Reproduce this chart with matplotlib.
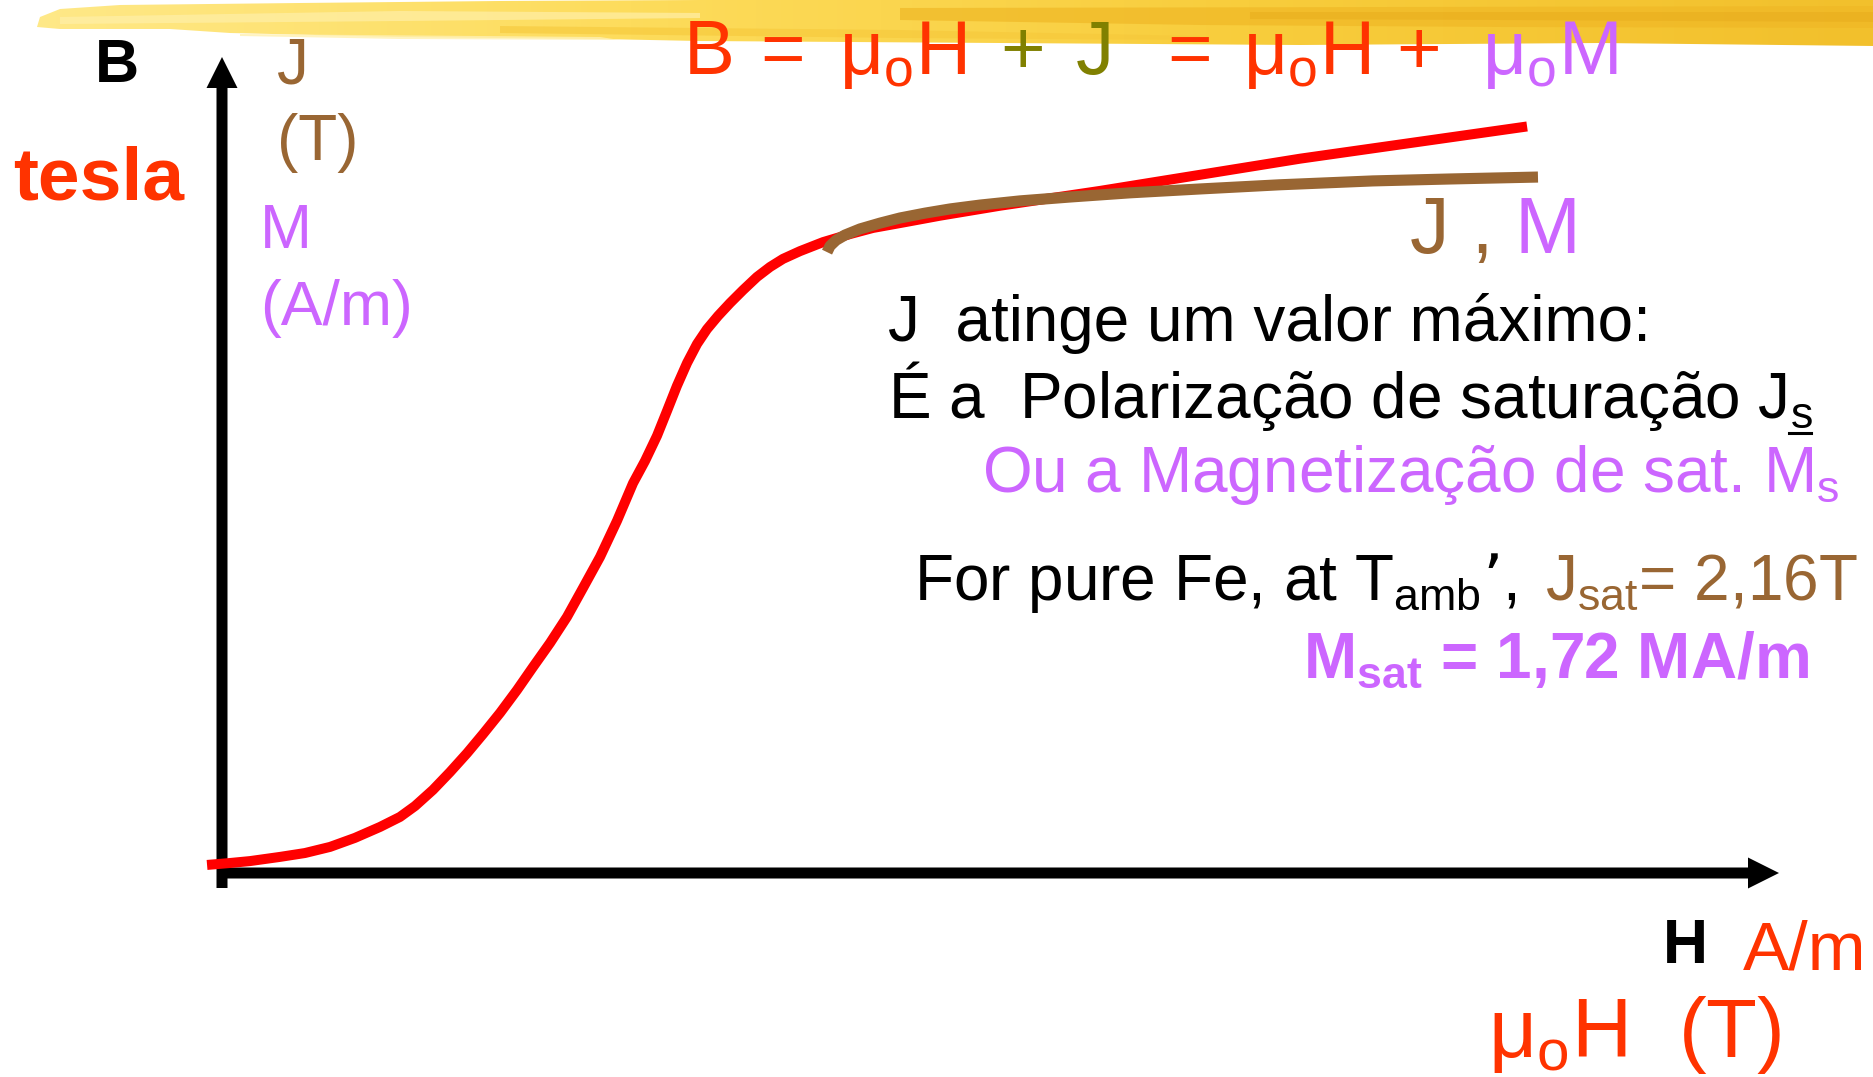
import numpy as np
import matplotlib
matplotlib.use('Agg')
import matplotlib.pyplot as plt
from matplotlib.patches import Polygon
from matplotlib.colors import LinearSegmentedColormap

plt.rcParams['font.family'] = ['Liberation Sans', 'DejaVu Sans']

# B(H) curve and J(H) curve (H arbitrary units, B/J in T)
h_b = [-0.96, 0.51, 1.80, 3.73, 5.33, 6.94, 8.54, 10.15, 11.43, 12.40, 13.55, 14.64,
       15.74, 16.76, 17.86, 18.95, 19.97, 21.07, 22.16, 23.19, 24.28, 25.37, 26.40,
       27.17, 27.94, 28.58, 29.22, 29.87, 30.51, 31.15, 31.86, 32.63, 33.46, 34.36,
       35.20, 36.03, 37.12, 38.60, 40.33, 41.81, 43.87, 46.11, 49.97, 56.39, 69.24, 83.82]
b_vals = [0.025, 0.031, 0.037, 0.050, 0.062, 0.081, 0.109, 0.143, 0.174, 0.208, 0.258,
          0.313, 0.372, 0.431, 0.497, 0.568, 0.639, 0.714, 0.795, 0.885, 0.981, 1.093,
          1.210, 1.279, 1.357, 1.434, 1.512, 1.583, 1.642, 1.688, 1.729, 1.769, 1.809,
          1.850, 1.881, 1.906, 1.930, 1.958, 1.983, 2.002, 2.020, 2.040, 2.071, 2.117,
          2.217, 2.317]
h_j = [38.86, 39.05, 39.44, 40.01, 40.98, 42.26, 43.55, 45.15, 46.76, 48.68, 51.25,
       54.46, 58.31, 62.80, 67.94, 73.92, 78.87, 84.52]
j_vals = [1.927, 1.946, 1.964, 1.980, 1.999, 2.017, 2.033, 2.048, 2.061, 2.073, 2.086,
          2.098, 2.111, 2.123, 2.136, 2.148, 2.154, 2.160]

# colours
RED = '#FF0000'
ORANGE = '#FF3300'
BROWN = '#996633'
PURPLE = '#CC66FF'
OLIVE = '#808000'

W, H = 1874, 1077
ox, oy = 222, 873          # pixel position of the origin
sx, sy = 15.57, 322.2      # pixels per unit

fig = plt.figure(figsize=(W / 100, H / 100), dpi=100)

# yellow brush stroke at the top (pixel coords)
bg = fig.add_axes([0, 0, 1, 1], zorder=0)
bg.set_xlim(0, W)
bg.set_ylim(H, 0)
bg.axis('off')
outline = Polygon([(37, 27), (40, 17), (60, 9), (120, 5), (300, 3), (500, 1), (700, 0),
                   (1874, 0), (1874, 46), (1600, 43), (1300, 45), (1000, 43), (700, 41),
                   (600, 39), (400, 37), (230, 33), (170, 29), (60, 29)],
                  closed=True, facecolor='none', lw=0)
bg.add_patch(outline)
brush = LinearSegmentedColormap.from_list('brush', ['#FFE98A', '#FDDC5C', '#F8CD3C', '#F2C02C'])
grad = np.tile(np.linspace(0, 1, 300), (10, 1))
im = bg.imshow(grad, cmap=brush, extent=[0, W, 50, 0], aspect='auto', zorder=0)
im.set_clip_path(outline)
streaks = [
    ('#F0B826', 0.7, [(900, 8), (1874, 6), (1874, 28), (1500, 27), (1200, 25), (900, 20)]),
    ('#E9AE1E', 0.6, [(1250, 12), (1874, 12), (1874, 22), (1500, 20), (1250, 19)]),
    ('#FFEFA8', 0.7, [(60, 17), (400, 11), (700, 13), (700, 18), (400, 21), (60, 24)]),
    ('#F6C83A', 0.6, [(500, 26), (900, 30), (1200, 36), (1200, 40), (900, 38), (500, 33)]),
    ('#FFF0B0', 0.8, [(240, 34), (600, 37), (620, 40), (400, 39), (240, 36)]),
]
for c, a, pts in streaks:
    bg.add_patch(Polygon(pts, closed=True, color=c, alpha=a, lw=0, zorder=1))
# underline of the subscript s in J_s
bg.plot([1789, 1811], [433, 433], color='k', lw=2.2, zorder=2)

ax = fig.add_axes([0, 0, 1, 1], zorder=1)
ax.patch.set_alpha(0)
ax.set_xlim(-ox / sx, (W - ox) / sx)
ax.set_ylim(-(H - oy) / sy, oy / sy)
ax.axis('off')

# axes arrows
ax.arrow(-5 / sx, 0, 100 + 5 / sx, 0, width=11 / sy, head_width=31 / sy,
         head_length=31 / sx, length_includes_head=True, color='k', lw=0)
ax.arrow(0, -15 / sy, 0, 816 / sy + 15 / sy, width=11 / sx, head_width=31 / sx,
         head_length=31 / sy, length_includes_head=True, color='k', lw=0)

ax.plot(h_b, b_vals, color=RED, lw=7.2, solid_capstyle='butt', solid_joinstyle='round')
ax.plot(h_j, j_vals, color=BROWN, lw=8, solid_capstyle='butt', solid_joinstyle='round')


def put(x, y, s, color, size, bold=False):
    fig.text(x / W, 1 - y / H, s, color=color, fontsize=size, ha='left', va='baseline',
             fontweight='bold' if bold else 'normal', zorder=5)


mu_o = r'μ$_\mathregular{o}$'

# left labels
put(95, 82, 'B', 'k', 44, True)
put(277, 83, 'J', BROWN, 46)
put(277, 160, '(T)', BROWN, 46)
put(13, 200, 'tesla', ORANGE, 54, True)
put(260, 248, 'M', PURPLE, 45)
put(260, 325, '(A/m)', PURPLE, 45)

# equation on top
put(684, 74, 'B', ORANGE, 55)
put(760, 74, '=', ORANGE, 55)
put(839, 74, mu_o + 'H', ORANGE, 55)
put(1000, 74, '+', OLIVE, 55)
put(1076, 74, 'J', OLIVE, 55)
put(1167, 74, '=', ORANGE, 55)
put(1243, 74, mu_o + 'H', ORANGE, 55)
put(1396, 74, '+', ORANGE, 55)
put(1482, 74, mu_o + 'M', PURPLE, 55)

# curve label
put(1410, 253, 'J , ', BROWN, 57)
put(1515, 253, 'M', PURPLE, 57)

# explanation block
put(888, 341, 'J  atinge um valor máximo:', 'k', 46)
put(888, 418, r'É a  Polarização de saturação J$_\mathregular{s}$', 'k', 46)
put(982, 492, r'Ou a Magnetização de sat. M$_\mathregular{s}$', PURPLE, 46)
put(914, 600, r'For pure Fe, at T$_\mathregular{amb}$’,', 'k', 46)
put(1545, 600, r'J$_\mathregular{sat}$= 2,16T', BROWN, 46)
put(1303, 678, r'M$_\mathregular{sat}$ = 1,72 MA/m', PURPLE, 46, True)

# x-axis labels
put(1663, 963, 'H', 'k', 45, True)
put(1743, 970, 'A/m', ORANGE, 50)
put(1488, 1057, mu_o + 'H  (T)', ORANGE, 60)

fig.savefig('out.png', dpi=100)
